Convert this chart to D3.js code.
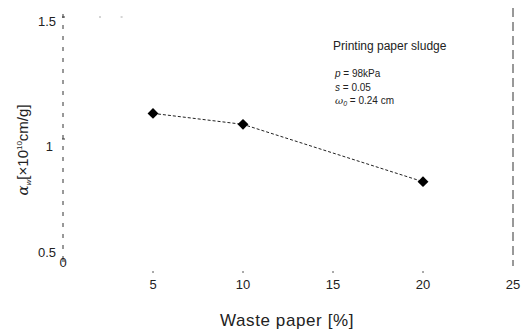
<!DOCTYPE html>
<html>
<head>
<meta charset="utf-8">
<script src="https://cdn.jsdelivr.net/npm/d3@7"></script>
<style>
  body { margin: 0; background: #fff; }
  text { font-family: "Liberation Sans", Arial, sans-serif; fill: #222; }
</style>
</head>
<body>
<div id="chart"></div>
<script>
// Data.
var wastePaper = [5, 10, 20];
var alphaW = [1.105, 1.06, 0.825];
var xTicks = [0, 5, 10, 15, 20, 25];
var yTicks = [0.5, 1, 1.5];
var yTickLabels = ["0.5", "1", "1.5"];

var svgWidth = 529;
var svgHeight = 333;
var svg = d3.select("#chart").append("svg").attr("width", svgWidth).attr("height", svgHeight);

var xScale = d3.scaleLinear().domain([0, 25]).range([63, 513]);
var yScale = d3.scaleLinear().domain([0.5, 1.5]).range([261, 17]);

// Dashed frame lines (left and right only, like the scan).
svg.append("line").attr("x1", xScale(0)).attr("x2", xScale(0)).attr("y1", 14).attr("y2", 262)
  .attr("stroke", "#333").attr("stroke-width", 1).attr("stroke-dasharray", "4,7");
svg.append("line").attr("x1", xScale(25)).attr("x2", xScale(25)).attr("y1", 8).attr("y2", 266)
  .attr("stroke", "#333").attr("stroke-width", 1).attr("stroke-dasharray", "9,5");

// a few faint marks along the top edge
svg.selectAll(".topmark").data([2, 3.2]).enter().append("line")
  .attr("x1", d => xScale(d)).attr("x2", d => xScale(d) + 2)
  .attr("y1", yScale(1.5)).attr("y2", yScale(1.5))
  .attr("stroke", "#aaa");

// Y tick labels (small offsets as in the scan).
var yLabelShift = [-9, 7, 4];
svg.selectAll(".ytick").data(yTicks).enter().append("text")
  .attr("x", (d, i) => i == 1 ? 53 : 56)
  .attr("y", (d, i) => yScale(d) + yLabelShift[i])
  .attr("dy", "0.35em")
  .attr("text-anchor", "end")
  .attr("font-size", "13px")
  .text((d, i) => yTickLabels[i]);
svg.selectAll(".ytickmark").data(yTicks).enter().append("line")
  .attr("x1", xScale(0) - 1).attr("x2", xScale(0) + 2)
  .attr("y1", d => yScale(d)).attr("y2", d => yScale(d))
  .attr("stroke", "#333");

// X tick labels with small tick dots above them.
svg.selectAll(".xtick").data(xTicks).enter().append("text")
  .attr("x", d => xScale(d))
  .attr("y", d => d == 0 ? 267 : 289)
  .attr("text-anchor", "middle")
  .attr("font-size", "13px")
  .text(d => d);
svg.selectAll(".xtickmark").data(xTicks.slice(1, 5)).enter().append("line")
  .attr("x1", d => xScale(d)).attr("x2", d => xScale(d))
  .attr("y1", 271).attr("y2", 273)
  .attr("stroke", "#555");

// Axis titles.
svg.append("text")
  .attr("x", 287).attr("y", 326)
  .attr("text-anchor", "middle")
  .attr("font-size", "17px")
  .attr("letter-spacing", "0.6px")
  .text("Waste paper [%]");

var yTitle = svg.append("text")
  .attr("transform", "translate(28,150) rotate(-90)")
  .attr("text-anchor", "middle")
  .attr("font-size", "15px");
yTitle.append("tspan").attr("font-style", "italic").attr("font-family", "DejaVu Serif, serif").text("α");
yTitle.append("tspan").attr("font-size", "8px").attr("dy", "3").attr("font-style", "italic").text("w");
yTitle.append("tspan").attr("dy", "-3").text("[×10");
yTitle.append("tspan").attr("font-size", "8px").attr("dy", "-6").text("10");
yTitle.append("tspan").attr("dy", "6").text("cm/g]");

// Dashed line and diamond markers.
var points = wastePaper.map((d, i) => [d, alphaW[i]]);
var line = d3.line().x(d => xScale(d[0])).y(d => yScale(d[1]));
svg.append("path").datum(points).attr("d", line)
  .attr("fill", "none").attr("stroke", "#222").attr("stroke-width", 1).attr("stroke-dasharray", "3,2");
svg.selectAll(".pt").data(points).enter().append("path")
  .attr("d", d3.symbol().type(d3.symbolDiamond2).size(75))
  .attr("transform", d => `translate(${xScale(d[0])},${yScale(d[1])})`)
  .attr("fill", "#000");

// Annotation block.
svg.append("text").attr("x", 333).attr("y", 50).attr("font-size", "12px").text("Printing paper sludge");
svg.append("text").attr("x", 335).attr("y", 77).attr("font-size", "10px")
  .html('<tspan font-style="italic">p</tspan> = 98kPa');
svg.append("text").attr("x", 335).attr("y", 91).attr("font-size", "10px")
  .html('<tspan font-style="italic">s</tspan> = 0.05');
svg.append("text").attr("x", 335).attr("y", 104).attr("font-size", "10px")
  .html('<tspan font-style="italic" font-family="DejaVu Serif, serif">ω</tspan><tspan font-size="7px" dy="2" font-style="italic">0</tspan><tspan dy="-2"> = 0.24 cm</tspan>');
</script>
</body>
</html>
